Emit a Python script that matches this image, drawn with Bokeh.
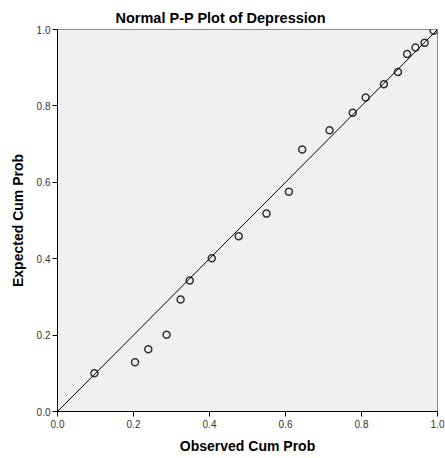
from bokeh.plotting import figure
from bokeh.models import Range1d, FixedTicker, NumeralTickFormatter, Slope
from bokeh.embed import file_html
from bokeh.resources import INLINE

observed = [0.097, 0.204, 0.239, 0.287, 0.324, 0.348, 0.406, 0.477, 0.550, 0.609,
            0.644, 0.716, 0.777, 0.811, 0.859, 0.896, 0.920, 0.942, 0.966, 0.990]
expected = [0.100, 0.129, 0.163, 0.201, 0.293, 0.343, 0.401, 0.459, 0.518, 0.575,
            0.686, 0.736, 0.782, 0.822, 0.857, 0.889, 0.936, 0.953, 0.965, 0.997]
ticks = [0.0, 0.2, 0.4, 0.6, 0.8, 1.0]

FONT = "Liberation Sans"

p = figure(width=445, height=458, output_backend="svg", toolbar_location=None,
           x_range=Range1d(0, 1), y_range=Range1d(0, 1),
           min_border_left=57, min_border_right=8, min_border_top=29, min_border_bottom=47,
           title="Normal P-P Plot of Depression")

p.title.text_font = FONT
p.title.text_font_size = "14.5px"
p.title.text_font_style = "bold"
p.title.align = "left"
p.title.offset = 58
p.title.standoff = 8
p.title.text_color = "#000000"

p.background_fill_color = "#F0F0F0"
p.border_fill_color = "#FFFFFF"
p.outline_line_color = "#8C8C8C"
p.outline_line_width = 1
p.grid.visible = False

for ax in (p.xaxis[0], p.yaxis[0]):
    ax.ticker = FixedTicker(ticks=ticks)
    ax.formatter = NumeralTickFormatter(format="0.0")
    ax.axis_line_color = "#000000"
    ax.major_tick_line_color = "#000000"
    ax.major_tick_out = 5
    ax.major_tick_in = 0
    ax.minor_tick_line_color = None
    ax.major_label_text_font = FONT
    ax.major_label_text_font_size = "10px"
    ax.major_label_text_color = "#333333"
    ax.axis_label_text_font = FONT
    ax.axis_label_text_font_size = "14px"
    ax.axis_label_text_font_style = "bold"
    ax.axis_label_text_color = "#000000"

p.xaxis.axis_label = "Observed Cum Prob"
p.yaxis.axis_label = "Expected Cum Prob"
p.xaxis.major_label_standoff = 3
p.yaxis.major_label_standoff = 2
p.xaxis.axis_label_standoff = 7
p.yaxis.axis_label_standoff = 8

p.add_layout(Slope(gradient=1, y_intercept=0, line_color="#000000", line_width=1))

p.scatter(observed, expected, marker="circle", size=7, fill_color=None,
          line_color="#333333", line_width=1.5)

open("out.html", "w").write(file_html(p, INLINE))
